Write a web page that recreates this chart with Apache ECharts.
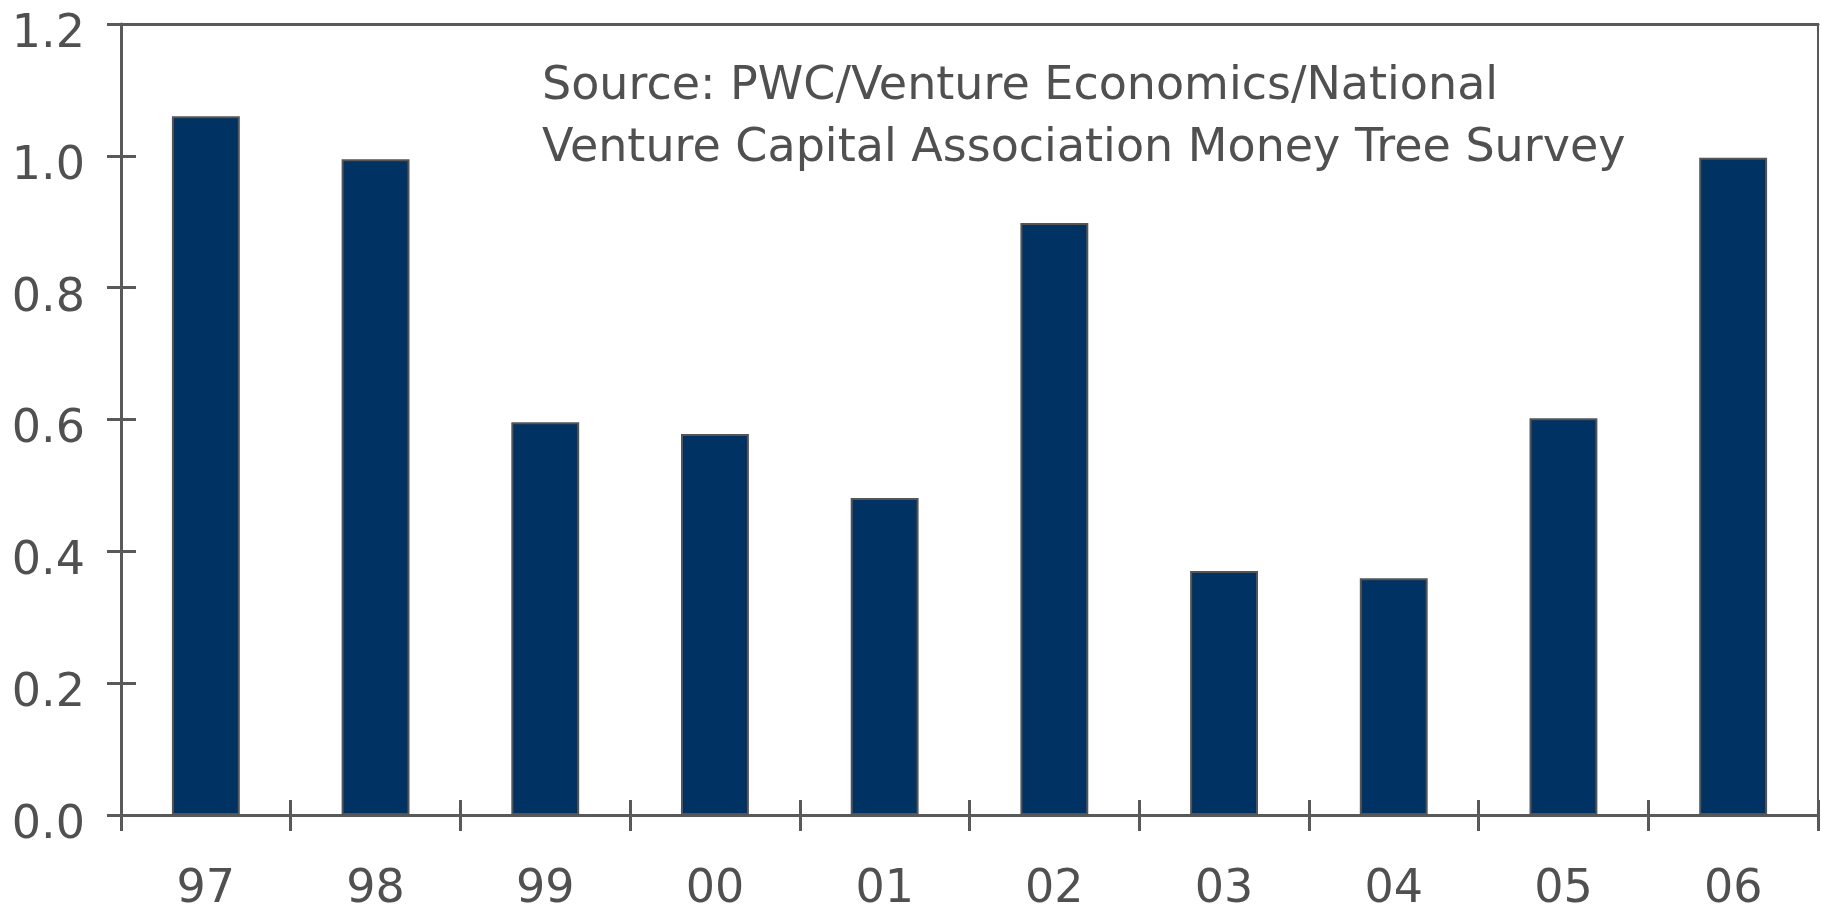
<!DOCTYPE html>
<html>
<head>
<meta charset="utf-8">
<script src="https://cdn.jsdelivr.net/npm/echarts@6/dist/echarts.min.js"></script>
<style>
  html, body { margin: 0; padding: 0; background: #fff; }
  #chart { width: 1821px; height: 905px; }
</style>
</head>
<body>
<div id="chart"></div>
<script>
// years (two-digit) and values
const years = ['97', '98', '99', '00', '01', '02', '03', '04', '05', '06'];
const values = [1.06, 0.995, 0.596, 0.578, 0.481, 0.898, 0.370, 0.359, 0.602, 0.997];
const yTicks = [0, 0.2, 0.4, 0.6, 0.8, 1.0, 1.2];
const sourceLines = ['Source: PWC/Venture Economics/National', 'Venture Capital Association Money Tree Survey'];

const axisColor = '#595959';
const textColor = '#505050';
const font = 'DejaVu Sans, Verdana, sans-serif';
const gridBox = { left: 121, right: 3, top: 24, bottom: 90, outerBoundsMode: 'none', containLabel: false };

const chart = echarts.init(document.getElementById('chart'));

const option = {
  animation: false,
  // second grid sits on top of the first, only to draw the inner half of the ticks
  grid: [Object.assign({}, gridBox), Object.assign({}, gridBox)],
  xAxis: [
    {
      type: 'category', gridIndex: 0, position: 'bottom', data: years,
      axisLine: { onZero: false, lineStyle: { color: axisColor, width: 3 } },
      axisTick: { show: true, inside: false, length: 16, lineStyle: { color: axisColor, width: 3 } },
      axisLabel: { color: textColor, fontSize: 46, fontFamily: font, margin: 52 }
    },
    {
      type: 'category', gridIndex: 0, position: 'top', data: years,
      axisLine: { onZero: false, lineStyle: { color: axisColor, width: 3 } },
      axisTick: { show: false }, axisLabel: { show: false }
    },
    {
      type: 'category', gridIndex: 1, position: 'bottom', data: years,
      axisLine: { show: false, onZero: false },
      axisTick: { show: true, inside: true, length: 15, lineStyle: { color: axisColor, width: 3 } },
      axisLabel: { show: false }
    }
  ],
  yAxis: [
    {
      type: 'value', gridIndex: 0, position: 'left', min: 0, max: 1.2, interval: 0.2,
      axisLine: { show: true, onZero: false, lineStyle: { color: axisColor, width: 3 } },
      axisTick: { show: true, inside: false, length: 14, lineStyle: { color: axisColor, width: 3 } },
      splitLine: { show: false },
      axisLabel: {
        color: textColor, fontSize: 46, fontFamily: font, margin: 36,
        verticalAlign: 'top', lineHeight: 22,
        formatter: v => yTicks.some(t => Math.abs(t - v) < 1e-9) ? v.toFixed(1) : ''
      }
    },
    {
      type: 'value', gridIndex: 0, position: 'right', min: 0, max: 1.2, interval: 0.2,
      axisLine: { show: true, onZero: false, lineStyle: { color: axisColor, width: 2 } },
      axisTick: { show: false }, axisLabel: { show: false }, splitLine: { show: false }
    },
    {
      type: 'value', gridIndex: 1, position: 'left', min: 0, max: 1.2, interval: 0.2,
      axisLine: { show: false, onZero: false },
      axisTick: { show: true, inside: true, length: 15, lineStyle: { color: axisColor, width: 3 } },
      axisLabel: { show: false }, splitLine: { show: false }
    }
  ],
  graphic: [
    {
      type: 'text', left: 542, top: 56, silent: true,
      style: {
        text: sourceLines.join('\n'),
        fill: textColor, fontSize: 46, fontFamily: font, lineHeight: 62
      }
    }
  ],
  series: [
    {
      type: 'bar', xAxisIndex: 0, yAxisIndex: 0, data: values,
      barWidth: '40%',
      itemStyle: { color: '#003263', borderColor: '#555555', borderWidth: 2 }
    }
  ]
};

chart.setOption(option);
</script>
</body>
</html>
